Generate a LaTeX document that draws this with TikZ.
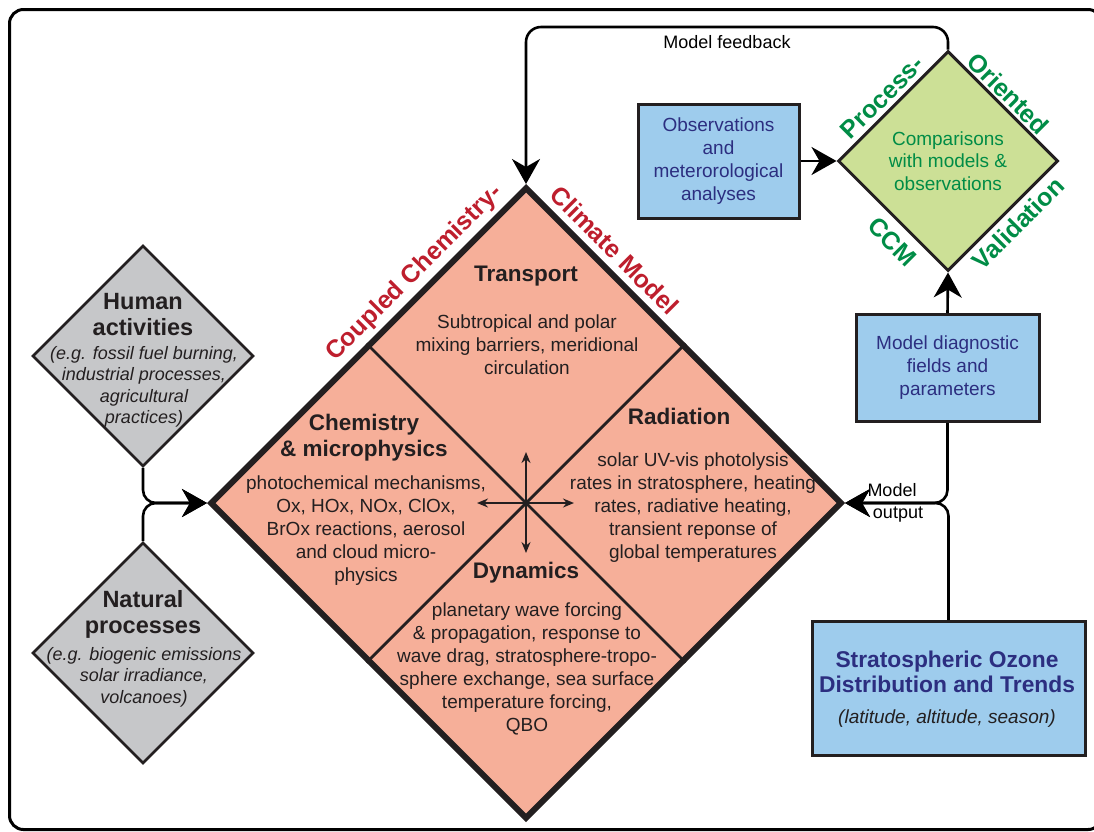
\documentclass[tikz,border=0pt]{standalone}
\usepackage{fontspec}
\setmainfont{Liberation Sans}
\usetikzlibrary{arrows.meta,shapes.geometric,calc}
\definecolor{salmon}{RGB}{246,175,153}
\definecolor{graybox}{RGB}{198,199,201}
\definecolor{bluebox}{RGB}{158,204,237}
\definecolor{greenbox}{RGB}{204,224,150}
\definecolor{ccmred}{RGB}{190,30,45}
\definecolor{valgreen}{RGB}{0,140,70}
\definecolor{navy}{RGB}{44,46,128}
\definecolor{ink}{RGB}{35,31,32}
\newcommand{\fsz}[2]{\fontsize{#1}{#2}\selectfont}
\begin{document}
\begin{tikzpicture}[x=1pt,y=-1pt,
  conn/.style={line width=2.6pt, draw=black, rounded corners=13pt},
  bigtip/.style={-{Stealth[length=25pt,width=28pt,inset=8pt]}},
  smalltips/.style={{Stealth[length=11pt,width=9pt]}-{Stealth[length=11pt,width=9pt]}},
  bluebx/.style={draw=ink, line width=3pt, fill=bluebox, inner sep=0pt, text=navy, align=center, font=\fsz{19}{23}},
  graydia/.style={diamond, aspect=1, draw=ink, line width=2.6pt, fill=graybox, inner sep=0pt, minimum size=221pt},
  head/.style={font=\fsz{22.5}{26}\bfseries, text=ink, align=center, inner sep=0pt},
  body/.style={font=\fsz{19}{23}, text=ink, align=center, inner sep=0pt},
  ghead/.style={font=\fsz{23.5}{26}\bfseries, text=ink, align=center, inner sep=0pt},
  gbody/.style={font=\fsz{18}{21.5}\itshape, text=ink, align=center, inner sep=0pt},
  redlbl/.style={font=\fsz{25}{30}\bfseries, text=ccmred, inner sep=0pt, anchor=base},
  grnlbl/.style={font=\fsz{25}{30}\bfseries, text=valgreen, inner sep=0pt, anchor=base},
  small/.style={font=\fsz{18}{21}, text=black, inner sep=0pt}
]
\useasboundingbox (0,0) rectangle (1094,831);
% outer frame
\draw[line width=3pt, rounded corners=14pt] (9.5,9.5) rectangle (1102,829.5);

% main diamond
\node[diamond, aspect=1, draw=ink, line width=6pt, fill=salmon, inner sep=0pt, minimum size=632pt] (ccm) at (526,503) {};
\draw[ink, line width=2.8pt] ($(ccm.north)!0.5!(ccm.west)$) -- ($(ccm.south)!0.5!(ccm.east)$);
\draw[ink, line width=2.8pt] ($(ccm.north)!0.5!(ccm.east)$) -- ($(ccm.south)!0.5!(ccm.west)$);
\draw[ink, line width=1.6pt, smalltips] ($(ccm.center)+(0,-51)$) -- ($(ccm.center)+(0,50)$);
\draw[ink, line width=1.6pt, smalltips] ($(ccm.center)+(-49,0)$) -- ($(ccm.center)+(48,0)$);

% quadrant texts
\node[head] (trH) at (526,276) {Transport};
\node[body] (trB) at (527,345) {Subtropical and polar\\mixing barriers, meridional\\circulation};
\node[head] (chH) at (364,437.5) {Chemistry\\\& microphysics};
\node[body] (chB) at (366,531) {photochemical mechanisms,\\Ox, HOx, NOx, ClOx,\\BrOx reactions, aerosol\\and cloud micro-\\physics};
\node[head] (raH) at (679,416) {Radiation};
\node[body] (raB) at (693,507.5) {solar UV-vis photolysis\\rates in stratosphere, heating\\rates, radiative heating,\\transient reponse of\\global temperatures};
\node[head] (dyH) at (526,573) {Dynamics};
\node[body] (dyB) at (527,669) {planetary wave forcing\\\& propagation, response to\\wave drag, stratosphere-tropo-\\sphere exchange, sea surface\\temperature forcing,\\QBO};

% red edge labels
\node[redlbl, rotate=45] (lblCoupled) at (419,278) {Coupled Chemistry-};
\node[redlbl, rotate=-45] (lblClimate) at (608.4,256.6) {Climate Model};

% gray diamonds
\node[graydia] (human) at (143,356) {};
\node[ghead] (humanT) at (143,315) {Human\\activities};
\node[gbody] (humanB) at (144,387) {(e.g. fossil fuel burning,\\industrial processes,\\agricultural\\practices)};
\node[graydia] (natural) at (143,653) {};
\node[ghead] (naturalT) at (143,614) {Natural\\processes};
\node[gbody] (naturalB) at (144,677) {(e.g. biogenic emissions\\solar irradiance,\\volcanoes)};

% validation diamond
\node[diamond, aspect=1, draw=ink, line width=3pt, fill=greenbox, inner sep=0pt, minimum size=220pt, text=valgreen, align=center, font=\fsz{19}{22.5}] (val) at (948,161) {Comparisons\\with models \&\\observations};
\node[grnlbl, rotate=45] (lblProcess) at (888.3,103.3) {Process-};
\node[grnlbl, rotate=-45] (lblOriented) at (1002.2,99.8) {Oriented};
\node[grnlbl, rotate=-45] (lblCCM) at (886.3,247.7) {CCM};
\node[grnlbl, rotate=45] (lblValidation) at (1024.5,229.5) {Validation};

% blue boxes
\node[bluebx, minimum width=161pt, minimum height=114pt] (obs) at (718.5,161) {Observations\\and\\meterorological\\analyses};
\node[bluebx, minimum width=183pt, minimum height=107pt] (diag) at (947.5,368) {Model diagnostic\\fields and\\parameters};
\node[draw=ink, line width=3pt, fill=bluebox, minimum width=273pt, minimum height=134pt, inner sep=0pt] (strat) at (948.5,688.5) {};
\node[font=\fsz{22.8}{25}\bfseries, text=navy, align=center, inner sep=0pt] (stratT) at (947,672) {Stratospheric Ozone\\Distribution and Trends};
\node[font=\fsz{19}{23}\itshape, text=ink, inner sep=0pt] (stratB) at (947,719) {(latitude, altitude, season)};

% connectors
\coordinate (fbk) at (737,27);
\draw[conn, bigtip, rounded corners=15pt] (val.north) |- (fbk) -| (ccm.north);
\node[small] (fbkL) at (727,42) {Model feedback};
\draw[conn, bigtip] (obs.east) -- (val.west);
\draw[conn, bigtip] (diag.north) -- (val.south);
\draw[conn, bigtip] (diag.south) |- (ccm.east);
\draw[conn, bigtip] (strat.north) |- (ccm.east);
\node[small] (outL1) at (892,490) {Model};
\node[small] (outL2) at (898,515) {output};
\draw[conn, bigtip] (human.south) |- (ccm.west);
\draw[conn, bigtip] (natural.north) |- (ccm.west);
\end{tikzpicture}
\end{document}
